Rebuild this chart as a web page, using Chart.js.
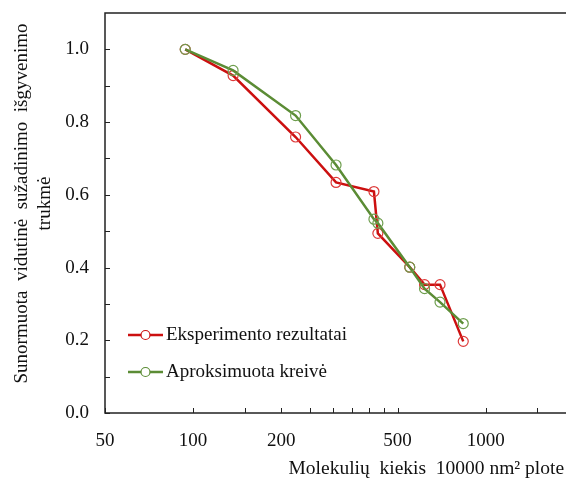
<!DOCTYPE html>
<html>
<head>
<meta charset="utf-8">
<script src="https://cdn.jsdelivr.net/npm/chart.js@4/dist/chart.umd.min.js"></script>
<style>
html, body { margin: 0; padding: 0; background: #fff; overflow: hidden; }
#wrap { width: 580px; height: 481px; }
</style>
</head>
<body>
<div id="wrap"><canvas id="chart" width="580" height="481"></canvas></div>
<script>
// data
const xValues = [94, 137, 224, 308, 415, 428, 550, 618, 698, 838];
const redValues = [1.0, 0.928, 0.759, 0.634, 0.609, 0.494, 0.401, 0.353, 0.353, 0.197];
const greenValues = [1.0, 0.942, 0.818, 0.682, 0.533, 0.522, 0.401, 0.342, 0.305, 0.246];
const seriesNames = ['Eksperimento rezultatai', 'Aproksimuota kreivė'];

// axis ticks
const xTicks = [50, 100, 200, 500, 1000];
const xMinorTicks = [150, 250, 300, 350, 400, 450, 1500];
const yTicks = [0, 0.2, 0.4, 0.6, 0.8, 1.0];
const yMinorTicks = [0.1, 0.3, 0.5, 0.7, 0.9];

const FONT = 'Liberation Serif';
const redColor = '#cc1010';
const greenColor = '#5b8c35';

function toPoints(ys) {
	return xValues.map(function (x, i) { return { x: x, y: ys[i] }; });
}

// frame, inward ticks and the legend box
const framePlugin = {
	id: 'frame',
	afterDraw: function (chart) {
		const ctx = chart.ctx;
		const area = chart.chartArea;
		const xs = chart.scales.x;
		const ys = chart.scales.y;
		ctx.save();
		ctx.strokeStyle = '#222';
		ctx.lineWidth = 1.5;
		ctx.strokeRect(area.left, area.top, area.right - area.left, area.bottom - area.top);
		ctx.lineWidth = 1;
		xTicks.concat(xMinorTicks).forEach(function (v) {
			const px = Math.round(xs.getPixelForValue(v)) + 0.5;
			ctx.beginPath();
			ctx.moveTo(px, area.bottom);
			ctx.lineTo(px, area.bottom - 5);
			ctx.stroke();
		});
		yTicks.concat(yMinorTicks).forEach(function (v) {
			const py = Math.round(ys.getPixelForValue(v)) + 0.5;
			ctx.beginPath();
			ctx.moveTo(area.left, py);
			ctx.lineTo(area.left + 5, py);
			ctx.stroke();
		});

		// legend
		const items = [
			{ text: seriesNames[0], color: redColor, y: 335 },
			{ text: seriesNames[1], color: greenColor, y: 372 }
		];
		items.forEach(function (it) {
			ctx.strokeStyle = it.color;
			ctx.lineWidth = 2.5;
			ctx.beginPath();
			ctx.moveTo(128, it.y);
			ctx.lineTo(163, it.y);
			ctx.stroke();
			ctx.lineWidth = 1.2;
			ctx.fillStyle = '#fff';
			ctx.beginPath();
			ctx.arc(145.5, it.y, 4.5, 0, Math.PI * 2);
			ctx.fill();
			ctx.stroke();
			ctx.fillStyle = '#111';
			ctx.font = '19px "' + FONT + '"';
			ctx.textAlign = 'left';
			ctx.textBaseline = 'middle';
			ctx.fillText(it.text, 166, it.y);
		});
		ctx.restore();
	}
};

const chart = new Chart(document.getElementById('chart').getContext('2d'), {
	type: 'line',
	data: {
		datasets: [{
			label: seriesNames[0],
			data: toPoints(redValues),
			borderColor: redColor,
			borderWidth: 2.5,
			pointRadius: 5,
			pointBorderWidth: 1.2,
			pointBorderColor: '#dd3a3a',
			pointBackgroundColor: 'rgba(255,255,255,0)',
			tension: 0,
			order: 1
		}, {
			label: seriesNames[1],
			data: toPoints(greenValues),
			borderColor: greenColor,
			borderWidth: 2.5,
			pointRadius: 5,
			pointBorderWidth: 1.2,
			pointBorderColor: '#6e9e4e',
			pointBackgroundColor: 'rgba(255,255,255,0)',
			tension: 0,
			order: 0
		}]
	},
	options: {
		responsive: false,
		animation: false,
		devicePixelRatio: 1,
		layout: { padding: { top: 13, right: 4, left: 0, bottom: 0 } },
		plugins: {
			legend: { display: false },
			tooltip: { enabled: false }
		},
		scales: {
			x: {
				type: 'logarithmic',
				min: 50,
				max: 2000,
				grid: { display: false, drawTicks: false },
				border: { display: false },
				afterBuildTicks: function (scale) {
					scale.ticks = xTicks.map(function (v) { return { value: v }; });
				},
				afterFit: function (scale) { scale.height = 68; },
				ticks: {
					padding: 17,
					maxRotation: 0,
					autoSkip: false,
					color: '#111',
					font: { family: FONT, size: 19 },
					callback: function (v) { return String(v); }
				},
				title: {
					display: true,
					text: 'Molekulių  kiekis  10000 nm² plote  ',
					align: 'end',
					color: '#111',
					font: { family: FONT, size: 19.5 },
					padding: { top: 0, bottom: 0 }
				}
			},
			y: {
				min: 0,
				max: 1.1,
				grid: { display: false, drawTicks: false },
				border: { display: false },
				afterBuildTicks: function (scale) {
					scale.ticks = yTicks.map(function (v) { return { value: v }; });
				},
				afterFit: function (scale) {
					scale.width = 105;
					scale.paddingTop = 0;
					scale.paddingBottom = 0;
				},
				ticks: {
					padding: 16,
					color: '#111',
					font: { family: FONT, size: 19 },
					callback: function (v) { return v.toFixed(1); }
				},
				title: {
					display: true,
					text: ['    Sunormuota  vidutinė  sužadinimo  išgyvenimo', '    trukmė'],
					color: '#111',
					font: { family: FONT, size: 19, lineHeight: 1.2 },
					padding: { top: 11, bottom: 0 }
				}
			}
		}
	},
	plugins: [framePlugin]
});
</script>
</body>
</html>
